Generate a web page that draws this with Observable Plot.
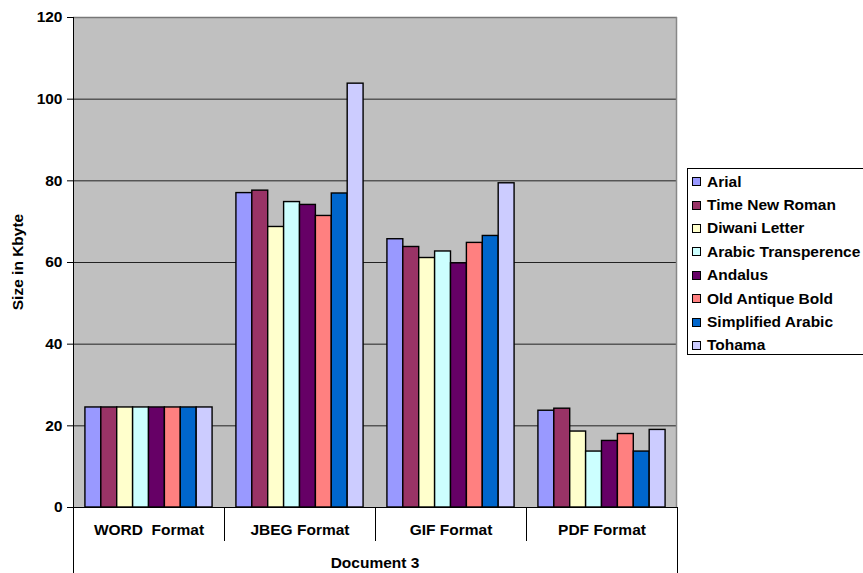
<!DOCTYPE html>
<html>
<head>
<meta charset="utf-8">
<script src="https://cdn.jsdelivr.net/npm/d3@7"></script>
<script src="https://cdn.jsdelivr.net/npm/@observablehq/plot@0.6"></script>
<style>
  html, body { margin: 0; padding: 0; background: #fff; }
  #wrap { position: relative; width: 863px; height: 573px; overflow: hidden; }
  #legend { position: absolute; left: 687px; top: 168px; width: 200px; height: 187px;
    border: 1px solid #000; background: #fff; box-sizing: border-box; padding-top: 1px;
    font-family: "Liberation Sans", Arial, sans-serif; font-weight: bold; font-size: 15.5px; }
  .item { height: 23.4px; display: flex; align-items: center; white-space: nowrap; }
  .sw { width: 7px; height: 7px; border: 1px solid #000; margin-left: 4px; margin-right: 6px; flex: none; }
</style>
</head>
<body>
<div id="wrap"><div id="legend"></div></div>
<script>
const categories = ["WORD\u00a0 Format", "JBEG Format", "GIF Format", "PDF Format"];
const fonts = ["Arial", "Time New Roman", "Diwani Letter", "Arabic Transperence", "Andalus", "Old Antique Bold", "Simplified Arabic", "Tohama"];
const colors = ["#9999FF", "#993366", "#FFFFCC", "#CCFFFF", "#660066", "#FF8080", "#0066CC", "#CCCCFF"];
const wordValues = [24.5, 24.5, 24.5, 24.5, 24.5, 24.5, 24.5, 24.5];
const jbegValues = [77.0, 77.6, 68.7, 74.8, 74.1, 71.4, 76.9, 103.8];
const gifValues  = [65.7, 63.8, 61.1, 62.7, 59.8, 64.8, 66.5, 79.4];
const pdfValues  = [23.7, 24.2, 18.6, 13.7, 16.3, 18.0, 13.7, 19.0];
const yTicks = [0, 20, 40, 60, 80, 100, 120];
const yTitle = "Size in Kbyte";
const xTitle = "Document 3";

const seriesByCat = [wordValues, jbegValues, gifValues, pdfValues];
const rows = [];
categories.forEach((c, i) => fonts.forEach((f, j) => rows.push({cat: c, font: f, value: seriesByCat[i][j]})));

const W = 863, H = 573, mL = 73, mR = 186, mT = 17, mB = 66;
const FONT = "'Liberation Sans', Arial, sans-serif";

const plot = Plot.plot({
  width: W, height: H,
  marginLeft: mL, marginRight: mR, marginTop: mT, marginBottom: mB,
  style: {fontFamily: FONT, fontSize: "15.5px", fontWeight: "bold", color: "#000", background: "transparent", overflow: "visible"},
  fx: {domain: categories, padding: 0, round: false, tickSize: 0, tickPadding: 16, label: null},
  x: {domain: fonts, paddingInner: 0, paddingOuter: 0.75, round: false, axis: null},
  y: {domain: [0, 120], ticks: yTicks, tickSize: 6, tickPadding: 5, label: null},
  color: {domain: fonts, range: colors},
  marks: [
    Plot.ruleY(yTicks.filter(d => d > 0 && d < 120), {stroke: "#222", strokeWidth: 1}),
    Plot.barY(rows, {fx: "cat", x: "font", y: "value", fill: "font", stroke: "#000", strokeWidth: 1.4})
  ]
});

const wrap = document.getElementById("wrap");
wrap.insertBefore(plot, wrap.firstChild);

// Chart furniture derived from the scales
const svg = d3.select(plot);
const fxs = plot.scale("fx");
const ys = plot.scale("y");
const x0 = fxs.range[0], x1 = fxs.range[1];
const band = d3.scaleBand().domain(fxs.domain).range(fxs.range).padding(0);
const yTop = ys.range[1], yBot = ys.range[0];

// plot-area background behind everything
const firstG = plot.querySelector("g");
const bg = document.createElementNS("http://www.w3.org/2000/svg", "rect");
bg.setAttribute("x", x0); bg.setAttribute("y", yTop);
bg.setAttribute("width", x1 - x0); bg.setAttribute("height", yBot - yTop);
bg.setAttribute("fill", "#C0C0C0");
plot.insertBefore(bg, firstG);

const g = svg.append("g");
g.append("line").attr("x1", x0).attr("x2", x1).attr("y1", yTop + 0.5).attr("y2", yTop + 0.5).attr("stroke", "#777").attr("stroke-width", 1.5);
g.append("line").attr("x1", x1 - 0.5).attr("x2", x1 - 0.5).attr("y1", yTop).attr("y2", yBot).attr("stroke", "#888").attr("stroke-width", 1.5);
g.append("line").attr("x1", x0 + 0.5).attr("x2", x0 + 0.5).attr("y1", yTop).attr("y2", H).attr("stroke", "#000");
g.append("line").attr("x1", x0 - 6).attr("x2", x1).attr("y1", yBot + 0.5).attr("y2", yBot + 0.5).attr("stroke", "#000");
g.append("line").attr("x1", x1 + 0.5).attr("x2", x1 + 0.5).attr("y1", yBot).attr("y2", H).attr("stroke", "#000");
fxs.domain.slice(1).forEach(c => {
  const xx = Math.round(band(c)) + 0.5;
  g.append("line").attr("x1", xx).attr("x2", xx).attr("y1", yBot).attr("y2", yBot + 34).attr("stroke", "#000");
});
// axis titles
g.append("text").text(yTitle)
  .attr("transform", `translate(${x0 - 50},${(yTop + yBot) / 2}) rotate(-90)`)
  .attr("text-anchor", "middle").attr("font-family", FONT).attr("font-weight", "bold").attr("font-size", "15.5px");
g.append("text").text(xTitle)
  .attr("x", (x0 + x1) / 2).attr("y", yBot + 61)
  .attr("text-anchor", "middle").attr("font-family", FONT).attr("font-weight", "bold").attr("font-size", "15.5px");

// Legend
const legend = d3.select("#legend");
fonts.forEach((f, i) => {
  const it = legend.append("div").attr("class", "item");
  it.append("div").attr("class", "sw").style("background", colors[i]);
  it.append("span").text(f);
});
</script>
</body>
</html>
